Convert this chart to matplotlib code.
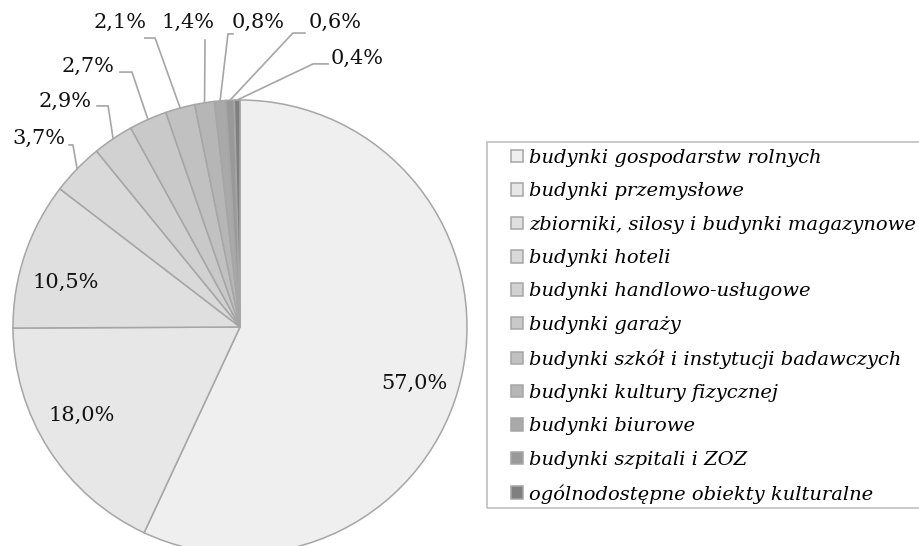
import matplotlib
matplotlib.use("Agg")
import matplotlib.pyplot as plt
from matplotlib.patches import Rectangle
import numpy as np

plt.rcParams.update({"font.family": "DejaVu Serif"})

categories = [
    "budynki gospodarstw rolnych",
    "budynki przemysłowe",
    "zbiorniki, silosy i budynki magazynowe",
    "budynki hoteli",
    "budynki handlowo-usługowe",
    "budynki garaży",
    "budynki szkół i instytucji badawczych",
    "budynki kultury fizycznej",
    "budynki biurowe",
    "budynki szpitali i ZOZ",
    "ogólnodostępne obiekty kulturalne",
]
shares = [57.0, 18.0, 10.5, 3.7, 2.9, 2.7, 2.1, 1.4, 0.8, 0.6, 0.4]
labels = ["57,0%", "18,0%", "10,5%", "3,7%", "2,9%", "2,7%", "2,1%",
          "1,4%", "0,8%", "0,6%", "0,4%"]

fills = ["#efefef", "#e7e7e7", "#dfdfdf", "#d9d9d9", "#d1d1d1", "#c9c9c9",
         "#c1c1c1", "#b6b6b6", "#a9a9a9", "#999999", "#7f7f7f"]
INK = "#111111"; LINE = "#a6a6a6"

# inside label centres (data units, pie radius 1) for the three big slices
inside = {0: (0.767, -0.247), 1: (-0.696, -0.388), 2: (-0.767, 0.198)}
# outside labels: label centre, elbow, end of short horizontal stub (or None)
outside = {
    3: ((-0.885, 0.833), (-0.736, 0.802), (-0.753, 0.802)),
    4: ((-0.771, 0.996), (-0.581, 0.974), (-0.630, 0.974)),
    5: ((-0.670, 1.150), (-0.476, 1.123), (-0.529, 1.123)),
    6: ((-0.529, 1.344), (-0.374, 1.273), (-0.419, 1.273)),
    7: ((-0.229, 1.344), (-0.154, 1.264), None),
    8: ((0.079, 1.344), (-0.053, 1.291), (-0.031, 1.291)),
    9: ((0.419, 1.344), (0.233, 1.295), (0.286, 1.295)),
    10: ((0.515, 1.185), (0.322, 1.159), (0.388, 1.159)),
}

fig = plt.figure(figsize=(9.2, 5.46), dpi=100)
ax = fig.add_axes([0, 0, 1, 1])
s = 227.0                                    # pie radius in pixels

wedges, _ = ax.pie(shares, colors=fills, startangle=90, counterclock=False,
                   radius=1.0, center=(0, 0), frame=True,
                   wedgeprops=dict(edgecolor=LINE, linewidth=1.1))
ax.set_xlim(-240 / s, 680 / s)
ax.set_ylim(-219 / s, 327 / s)
ax.set_aspect("equal")
ax.axis("off")

for i, w in enumerate(wedges):
    if i in inside:
        x, y = inside[i]
        ax.text(x, y, labels[i], ha="center", va="center", fontsize=15, color=INK)
        continue
    mid = np.deg2rad((w.theta1 + w.theta2) / 2)
    px, py = np.cos(mid), np.sin(mid)
    (lx, ly), (ex, ey), stub = outside[i]
    xs, ys = [px, ex], [py, ey]
    if stub is not None:
        xs.append(stub[0])
        ys.append(ey)
    ax.plot(xs, ys, color=LINE, lw=1.2, solid_joinstyle="miter")
    ax.text(lx, ly, labels[i], ha="center", va="center", fontsize=15, color=INK)

# legend frame drawn by hand (wide left padding, right edge runs off the figure)
fig.patches.append(Rectangle((487 / 920, 1 - 508 / 546), 450 / 920, 366 / 546,
                             transform=fig.transFigure, fill=False,
                             edgecolor="#bfbfbf", lw=1.2))
leg = fig.legend(wedges, categories, loc="upper left",
                 bbox_to_anchor=(511 / 920, 1 - 149 / 546),
                 prop=dict(family="DejaVu Serif", style="italic", size=14),
                 frameon=False, handlelength=0.62, handleheight=0.62,
                 handletextpad=0.3, labelspacing=0.79, borderpad=0,
                 borderaxespad=0)

fig.savefig("out.png", dpi=100)
